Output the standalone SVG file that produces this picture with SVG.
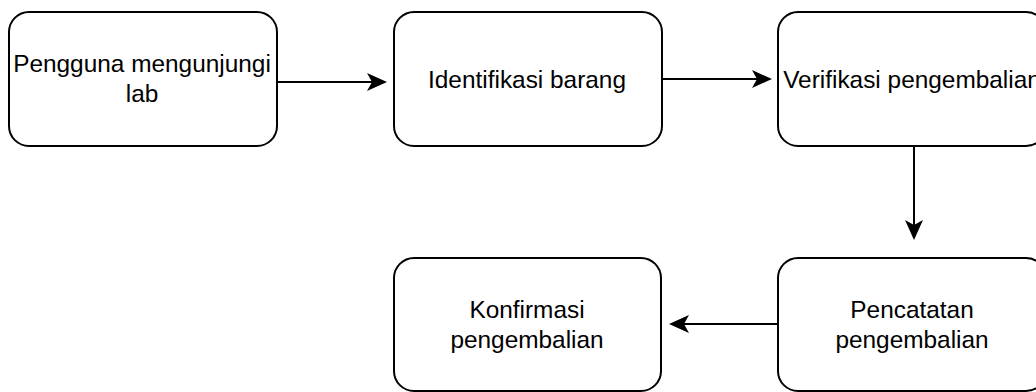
<svg xmlns="http://www.w3.org/2000/svg" width="1036" height="392" viewBox="0 0 1036 392">
  <style>
    .box { fill: #ffffff; stroke: #000000; stroke-width: 2; }
    .lbl { font-family: "Liberation Sans", Arial, Helvetica, sans-serif; font-size: 24.4px; fill: #000000; text-anchor: middle; }
    .edge { fill: none; stroke: #000000; stroke-width: 2; }
  </style>
  <defs>
    <!-- classic notched arrowhead; the line stops at the notch -->
    <marker id="arrow" markerUnits="userSpaceOnUse" viewBox="-6 -10 22 20" markerWidth="22" markerHeight="20" refX="0" refY="0" orient="auto">
      <path d="M-5,-9 L15,0 L-5,9 L0,0 Z" fill="#000000"/>
    </marker>
  </defs>
  <rect width="1036" height="392" fill="#ffffff"/>

  <g id="connectors">
    <path class="edge" d="M277,82 L372,82" marker-end="url(#arrow)"/>
    <path class="edge" d="M662,79 L757,79" marker-end="url(#arrow)"/>
    <path class="edge" d="M914,146 L914,225" marker-end="url(#arrow)"/>
    <path class="edge" d="M778,324 L684,324" marker-end="url(#arrow)"/>
  </g>

  <g id="node-pengguna">
    <rect class="box" x="9" y="12" width="268" height="134" rx="20" ry="20"/>
    <text class="lbl" x="142" y="72">Pengguna mengunjungi</text>
    <text class="lbl" x="142" y="102">lab</text>
  </g>

  <g id="node-identifikasi">
    <rect class="box" x="394" y="12" width="268" height="134" rx="20" ry="20"/>
    <text class="lbl" x="527" y="88">Identifikasi barang</text>
  </g>

  <g id="node-verifikasi">
    <rect class="box" x="778" y="12" width="268" height="134" rx="20" ry="20"/>
    <text class="lbl" x="912" y="88">Verifikasi pengembalian</text>
  </g>

  <g id="node-pencatatan">
    <rect class="box" x="778" y="258" width="268" height="133" rx="20" ry="20"/>
    <text class="lbl" x="912" y="318">Pencatatan</text>
    <text class="lbl" x="912" y="348">pengembalian</text>
  </g>

  <g id="node-konfirmasi">
    <rect class="box" x="394" y="258" width="267" height="133" rx="20" ry="20"/>
    <text class="lbl" x="527" y="318">Konfirmasi</text>
    <text class="lbl" x="527" y="348">pengembalian</text>
  </g>
</svg>
